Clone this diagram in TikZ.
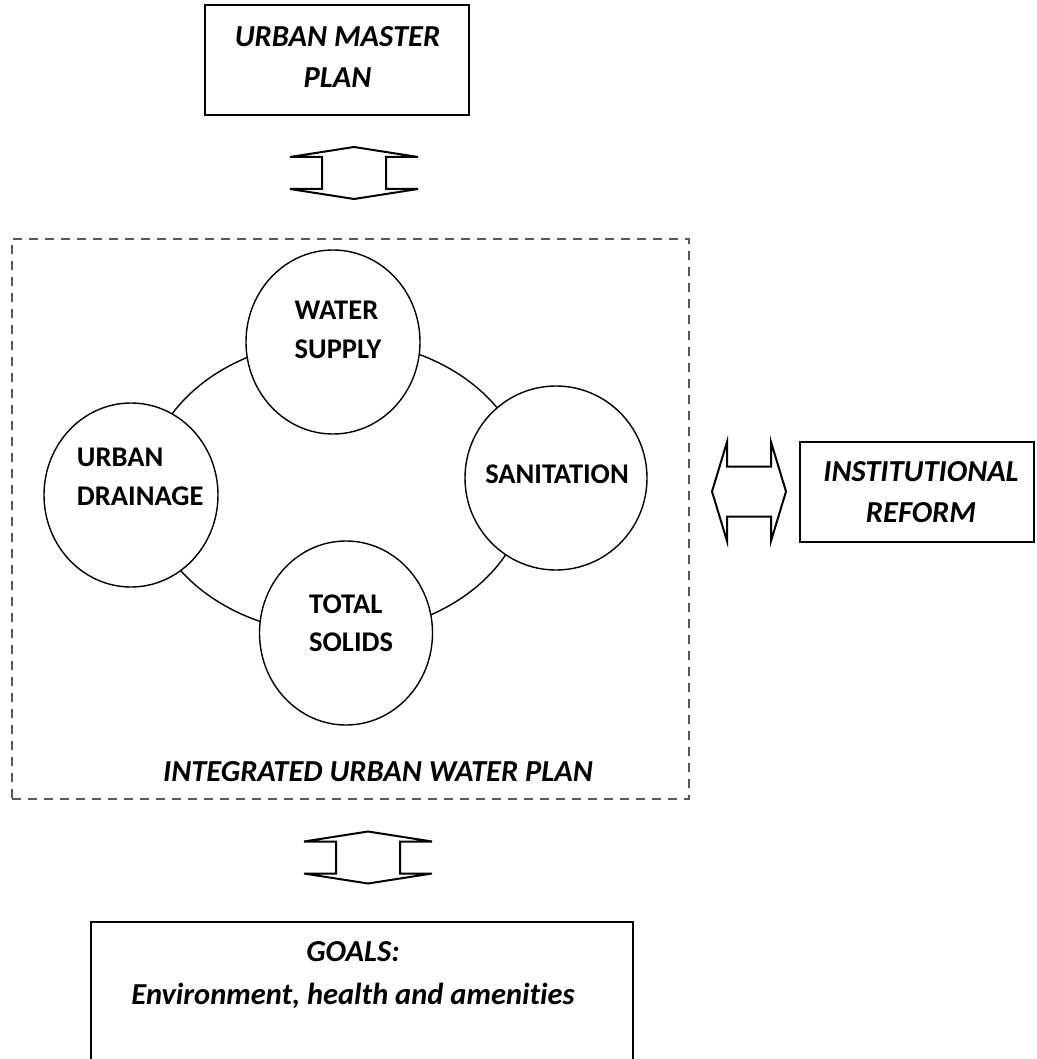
\documentclass[tikz,border=0pt]{standalone}
\usepackage{fontspec}
\setmainfont{Carlito}[Ligatures=NoCommon]
\usetikzlibrary{shapes.geometric}

\begin{document}
\begin{tikzpicture}[x=1pt, y=-1pt,
  every node/.style={font=\fontsize{30.5}{41}\selectfont\bfseries\itshape},
  mapbox/.style={draw, line width=1.4pt, rectangle, inner sep=0pt},
  plantext/.style={inner sep=0pt, align=center},
  unitoval/.style={draw, line width=1.4pt, ellipse, fill=white, inner sep=0pt},
  unittext/.style={font=\fontsize{28.5}{38.5}\selectfont\bfseries, align=left,
                   inner sep=0pt, anchor=west},
  planframe/.style={draw=black!65, line width=1.2pt, dash pattern=on 9pt off 7pt,
                    rectangle, inner sep=0pt},
  loopring/.style={draw, line width=1.4pt, ellipse, inner sep=0pt},
  blockarrow/.style={draw, line width=2pt, line join=miter, fill=white},
  vdarrow/.pic={\path[blockarrow] (-64,-16) -- (0,-26) -- (64,-16) -- (32,-16)
      -- (32,16) -- (64,16) -- (0,26) -- (-64,16) -- (-32,16) -- (-32,-16) -- cycle;},
  hdarrow/.pic={\path[blockarrow] (-37,0) -- (-22,-49.5) -- (-22,-25) -- (22,-25)
      -- (22,-49.5) -- (37,0) -- (22,49.5) -- (22,25) -- (-22,25) -- (-22,49.5) -- cycle;}
]
\useasboundingbox (0,0) rectangle (1036,1059);
\fill[white] (0,0) rectangle (1036,1059);
\clip (0,0) rectangle (1036,1059);

% outer planning boxes
\node[mapbox, minimum width=264pt, minimum height=110pt] (master) at (337,60) {};
\node[plantext] (master-text) at (337.5,56.7) {URBAN MASTER\\PLAN};
\node[mapbox, minimum width=234pt, minimum height=100pt] (reform) at (917,492) {};
\node[plantext] (reform-text) at (921,492.5) {INSTITUTIONAL\\REFORM};
\node[mapbox, minimum width=542pt, minimum height=178pt] (goals) at (362,1011) {};
\node[plantext, font=\fontsize{30.5}{43}\selectfont\bfseries\itshape] (goals-text)
  at (353,975.5) {GOALS:\\Environment, health and amenities};

% integrated plan frame
\node[planframe, minimum width=677pt, minimum height=560pt] (iuwp) at (350.5,519) {};
\node[plantext] (iuwp-text) at (378,772) {INTEGRATED URBAN WATER PLAN};

% ring joining the four services
\node[loopring, minimum width=380pt, minimum height=294pt] (loop) at (337,487) {};

\node[unitoval, minimum width=174pt, minimum height=184pt] (supply) at (333,342) {};
\node[unitoval, minimum width=182pt, minimum height=184pt] (sanit) at (556,478) {};
\node[unitoval, minimum width=174pt, minimum height=184pt] (drain) at (131,495) {};
\node[unitoval, minimum width=173pt, minimum height=184pt] (solids) at (346,633) {};

\node[unittext] (supply-text) at (294.5,330) {WATER\\SUPPLY};
\node[unittext] (drain-text) at (76.7,477) {URBAN\\DRAINAGE};
\node[unittext] (solids-text) at (309,623) {TOTAL\\SOLIDS};
\node[unittext, anchor=center] (sanit-text) at (557,474) {SANITATION};

% two-way block arrows
\pic (link-top) at (354,173) {vdarrow};
\pic (link-bottom) at (368,857.5) {vdarrow};
\pic (link-right) at (749,491.5) {hdarrow};
\end{tikzpicture}
\end{document}
